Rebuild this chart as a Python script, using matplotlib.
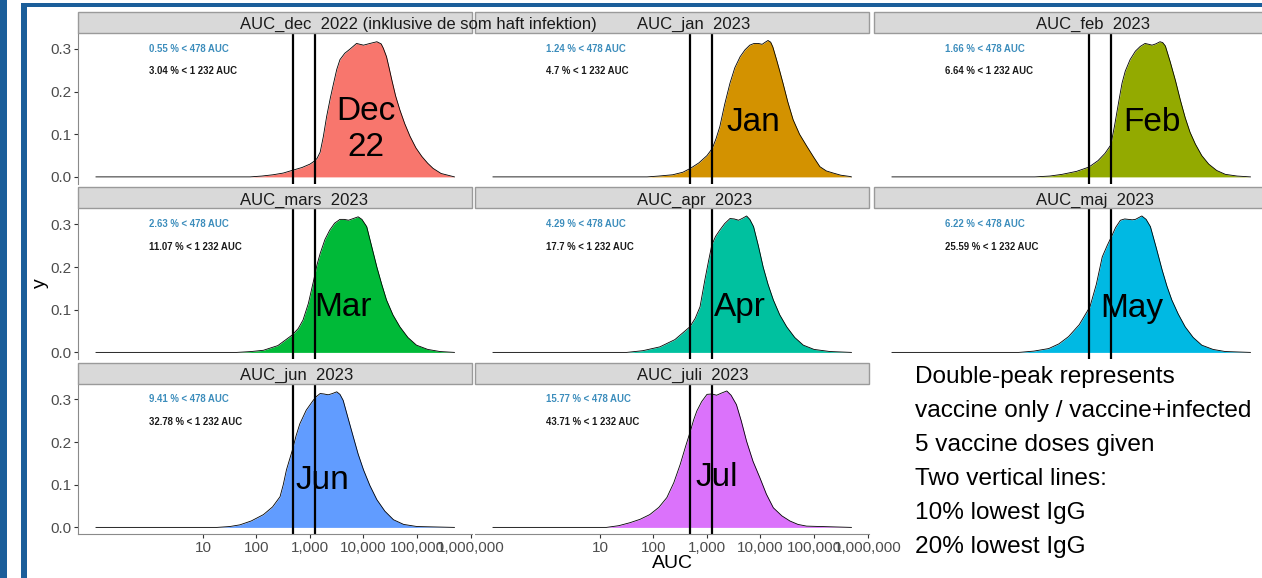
import matplotlib
matplotlib.use('Agg')
import numpy as np
import matplotlib.pyplot as plt
from matplotlib.patches import Rectangle
from matplotlib.ticker import FixedLocator, NullLocator

plt.rcParams['font.family'] = ['Liberation Sans', 'DejaVu Sans']

# density of AUC per month (x = log10 AUC, y = density)
dec_x = [-1, 1.88, 2.1, 2.31, 2.5, 2.66, 2.85, 3.0, 3.07, 3.13, 3.19, 3.25, 3.31, 3.38, 3.44, 3.50, 3.56, 3.65,
         3.75, 3.87, 4.0, 4.12, 4.25, 4.33, 4.37, 4.43, 4.48, 4.53, 4.60, 4.68, 4.77, 4.87, 4.98, 5.09, 5.20,
         5.30, 5.45, 5.67, 5.7]
dec_y = [0, 0, 0.002, 0.005, 0.009, 0.015, 0.022, 0.030, 0.036, 0.043, 0.058, 0.095, 0.141, 0.185, 0.219, 0.252,
         0.275, 0.29, 0.30, 0.313, 0.309, 0.313, 0.317, 0.312, 0.302, 0.282, 0.255, 0.227, 0.19, 0.157, 0.125,
         0.095, 0.068, 0.048, 0.032, 0.020, 0.008, 0.001, 0]
jan_x = [-1, 1.88, 2.1, 2.36, 2.55, 2.69, 2.85, 3.0, 3.10, 3.17, 3.24, 3.33, 3.43, 3.52, 3.62, 3.71, 3.80, 3.88,
         3.96, 4.03, 4.09, 4.14, 4.19, 4.23, 4.30, 4.36, 4.42, 4.51, 4.61, 4.73, 4.87, 5.0, 5.11, 5.23, 5.36,
         5.5, 5.67, 5.7]
jan_y = [0, 0, 0.002, 0.005, 0.011, 0.020, 0.033, 0.050, 0.067, 0.09, 0.118, 0.17, 0.22, 0.256, 0.282, 0.298,
         0.309, 0.313, 0.313, 0.311, 0.316, 0.32, 0.316, 0.305, 0.275, 0.248, 0.22, 0.176, 0.134, 0.1, 0.071,
         0.045, 0.024, 0.014, 0.009, 0.004, 0.001, 0]
feb_x = [-1, 1.67, 1.95, 2.18, 2.45, 2.68, 2.85, 2.98, 3.09, 3.16, 3.24, 3.30, 3.36, 3.45, 3.55, 3.64, 3.73, 3.80,
         3.86, 3.93, 4.01, 4.06, 4.11, 4.20, 4.30, 4.39, 4.48, 4.57, 4.67, 4.79, 4.92, 5.07, 5.23, 5.45, 5.7]
feb_y = [0, 0, 0.002, 0.006, 0.013, 0.023, 0.038, 0.055, 0.075, 0.12, 0.178, 0.22, 0.248, 0.275, 0.295, 0.306,
         0.313, 0.311, 0.309, 0.312, 0.317, 0.315, 0.307, 0.27, 0.225, 0.18, 0.139, 0.105, 0.077, 0.05, 0.03,
         0.015, 0.006, 0.002, 0]
mar_x = [-1, 1.63, 1.9, 2.13, 2.4, 2.67, 2.78, 2.87, 2.97, 3.07, 3.13, 3.19, 3.28, 3.37, 3.46, 3.56, 3.64, 3.72,
         3.81, 3.90, 3.97, 4.06, 4.15, 4.25, 4.34, 4.43, 4.55, 4.68, 4.83, 4.99, 5.2, 5.43, 5.7]
mar_y = [0, 0, 0.002, 0.005, 0.016, 0.041, 0.056, 0.076, 0.115, 0.17, 0.205, 0.232, 0.265, 0.287, 0.303, 0.312,
         0.312, 0.31, 0.314, 0.318, 0.312, 0.295, 0.25, 0.20, 0.16, 0.123, 0.088, 0.06, 0.035, 0.017, 0.007,
         0.002, 0]
apr_x = [-1, 1.50, 1.8, 2.12, 2.4, 2.68, 2.78, 2.87, 2.96, 3.03, 3.09, 3.16, 3.24, 3.33, 3.43, 3.51, 3.59, 3.67,
         3.74, 3.80, 3.87, 3.96, 4.05, 4.14, 4.24, 4.36, 4.49, 4.64, 4.80, 5.0, 5.30, 5.7]
apr_y = [0, 0, 0.004, 0.013, 0.03, 0.06, 0.08, 0.107, 0.17, 0.215, 0.252, 0.272, 0.287, 0.302, 0.314, 0.313, 0.31,
         0.315, 0.32, 0.312, 0.295, 0.25, 0.20, 0.16, 0.123, 0.088, 0.06, 0.035, 0.017, 0.007, 0.002, 0]
may_x = [-1, 1.37, 1.65, 1.93, 2.12, 2.30, 2.50, 2.70, 2.82, 2.93, 3.02, 3.10, 3.18, 3.27, 3.35, 3.42, 3.49, 3.55,
         3.61, 3.67, 3.75, 3.83, 3.94, 4.05, 4.14, 4.23, 4.35, 4.48, 4.63, 4.79, 5.0, 5.23, 5.7]
may_y = [0, 0, 0.003, 0.009, 0.02, 0.037, 0.065, 0.107, 0.16, 0.224, 0.25, 0.271, 0.293, 0.31, 0.313, 0.312,
         0.311, 0.312, 0.316, 0.32, 0.312, 0.295, 0.245, 0.193, 0.155, 0.123, 0.09, 0.06, 0.035, 0.017, 0.007,
         0.002, 0]
jun_x = [-1, 1.26, 1.5, 1.69, 1.9, 2.13, 2.30, 2.44, 2.50, 2.56, 2.67, 2.74, 2.81, 2.93, 3.06, 3.12, 3.19, 3.26,
         3.34, 3.42, 3.50, 3.56, 3.62, 3.71, 3.81, 3.90, 4.00, 4.12, 4.25, 4.40, 4.56, 4.75, 5.0, 5.7]
jun_y = [0, 0, 0.002, 0.006, 0.015, 0.03, 0.048, 0.072, 0.10, 0.135, 0.181, 0.215, 0.243, 0.275, 0.298, 0.307,
         0.314, 0.313, 0.311, 0.314, 0.318, 0.312, 0.298, 0.257, 0.212, 0.172, 0.135, 0.098, 0.065, 0.038, 0.018,
         0.007, 0.002, 0]
jul_x = [-1, 1.12, 1.35, 1.56, 1.75, 1.93, 2.10, 2.25, 2.38, 2.50, 2.60, 2.69, 2.75, 2.81, 2.90, 3.0, 3.09, 3.18,
         3.27, 3.37, 3.45, 3.55, 3.64, 3.74, 3.86, 3.99, 4.11, 4.24, 4.40, 4.55, 4.70, 4.86, 5.7]
jul_y = [0, 0, 0.004, 0.011, 0.019, 0.03, 0.047, 0.07, 0.105, 0.148, 0.19, 0.226, 0.252, 0.273, 0.295, 0.312,
         0.313, 0.31, 0.315, 0.32, 0.31, 0.288, 0.25, 0.202, 0.155, 0.116, 0.078, 0.046, 0.027, 0.015, 0.007,
         0.003, 0]

curves_x = [dec_x, jan_x, feb_x, mar_x, apr_x, may_x, jun_x, jul_x]
curves_y = [dec_y, jan_y, feb_y, mar_y, apr_y, may_y, jun_y, jul_y]

strip_titles = ['AUC_dec  2022 (inklusive de som haft infektion)', 'AUC_jan  2023', 'AUC_feb  2023',
                'AUC_mars  2023', 'AUC_apr  2023', 'AUC_maj  2023', 'AUC_jun  2023', 'AUC_juli  2023']
month_labels = ['Dec\n22', 'Jan', 'Feb', 'Mar', 'Apr', 'May', 'Jun', 'Jul']
label_x = [4.05, 3.86, 3.86, 3.62, 3.62, 3.49, 3.24, 3.19]   # log10 AUC
label_y = [0.112, 0.128, 0.128, 0.106, 0.106, 0.104, 0.111, 0.116]
pct_478 = ['0.55', '1.24', '1.66', '2.63', '4.29', '6.22', '9.41', '15.77']
pct_1232 = ['3.04', '4.7', '6.64', '11.07', '17.7', '25.59', '32.78', '43.71']
cut_low, cut_high = 478, 1232

colors = ['#F8766D', '#D39200', '#93AA00', '#00BA38', '#00C19F', '#00B9E3', '#619CFF', '#DB72FB']

x_breaks = [10, 100, 1000, 10000, 100000, 1000000]
x_break_labels = ['10', '100', '1,000', '10,000', '100,000', '1,000,000']
y_breaks = [0.0, 0.1, 0.2, 0.3]

notes = ['Double-peak represents', 'vaccine only / vaccine+infected', '5 vaccine doses given',
         'Two vertical lines:', '10% lowest IgG', '20% lowest IgG']

W, H = 1262, 578
fig = plt.figure(figsize=(W / 100, H / 100), dpi=100)


def box(x0, y0, x1, y1):
    return [x0 / W, 1 - y1 / H, (x1 - x0) / W, (y1 - y0) / H]


def rect(x0, y0, x1, y1, **kw):
    r = Rectangle((x0 / W, 1 - y1 / H), (x1 - x0) / W, (y1 - y0) / H,
                  transform=fig.transFigure, **kw)
    fig.patches.append(r)


col_left = [78, 475, 874]
panel_w = 394
row_top = [33, 208.5, 383.5]
panel_h = 150.5
strip_h = 21
grey_text = '#4D4D4D'
axis_grey = '#8A8A8A'

for i in range(8):
    r, c = divmod(i, 3)
    x0, y0 = col_left[c], row_top[r]
    ax = fig.add_axes(box(x0, y0, x0 + panel_w, y0 + panel_h))
    ax.set_xscale('log')
    ax.set_xlim(10 ** -1.336, 10 ** 6.028)
    ax.set_ylim(-0.0155, 0.3375)

    xs = 10 ** np.array(curves_x[i])
    ax.fill_between(xs, curves_y[i], 0, color=colors[i], lw=0)
    ax.plot(xs, curves_y[i], color='black', lw=0.6)
    ax.axvline(cut_low, color='black', lw=1.6)
    ax.axvline(cut_high, color='black', lw=1.6)

    ax.text(1, 0.30, pct_478[i] + ' % < 478 AUC', color='#3C8DBC', fontsize=6.9,
            fontweight='bold', ha='left', va='center')
    ax.text(1, 0.248, pct_1232[i] + ' % < 1 232 AUC', color='#1A1A1A', fontsize=6.9,
            fontweight='bold', ha='left', va='center')
    ax.text(10 ** label_x[i], label_y[i], month_labels[i], fontsize=24, ha='center',
            va='center', linespacing=1.2)

    for s in ax.spines.values():
        s.set_visible(False)
    ax.xaxis.set_minor_locator(NullLocator())
    ax.tick_params(axis='both', length=3, width=0.8, color='#333333',
                   labelsize=11, labelcolor=grey_text, pad=2)
    if c == 0:
        ax.spines['left'].set_visible(True)
        ax.spines['left'].set_color(axis_grey)
        ax.yaxis.set_major_locator(FixedLocator(y_breaks))
        ax.set_yticklabels(['%.1f' % v for v in y_breaks])
    else:
        ax.set_yticks([])
    if r == 2:
        ax.spines['bottom'].set_visible(True)
        ax.spines['bottom'].set_color(axis_grey)
        ax.xaxis.set_major_locator(FixedLocator(x_breaks))
        ax.set_xticklabels(x_break_labels)
    else:
        ax.set_xticks([])

    # facet strip
    rect(x0, y0 - strip_h, x0 + panel_w, y0, facecolor='#D9D9D9', edgecolor='#9A9A9A',
         lw=1, zorder=1)
    fig.text((x0 + 162) / W, 1 - (y0 - 4) / H, strip_titles[i], fontsize=12,
             color='#1A1A1A', ha='left', va='baseline', zorder=5)

fig.text(40 / W, 1 - 283 / H, 'y', rotation=90, fontsize=14, ha='center', va='center')
fig.text(672 / W, 1 - 564 / H, 'AUC', fontsize=14, ha='center', va='center')

for k, line in enumerate(notes):
    fig.text(915 / W, 1 - (383.5 + 33.8 * k) / H, line, fontsize=17.6, ha='left',
             va='baseline')

# slide frame
frame_blue = '#1B5E9A'
rect(0, 0, 6.7, H, facecolor=frame_blue, lw=0, zorder=6)
rect(20.5, 3.3, 26.6, H, facecolor=frame_blue, lw=0, zorder=6)
rect(20.5, 3.3, W, 7.4, facecolor=frame_blue, lw=0, zorder=6)

fig.savefig('out.png', dpi=100)
